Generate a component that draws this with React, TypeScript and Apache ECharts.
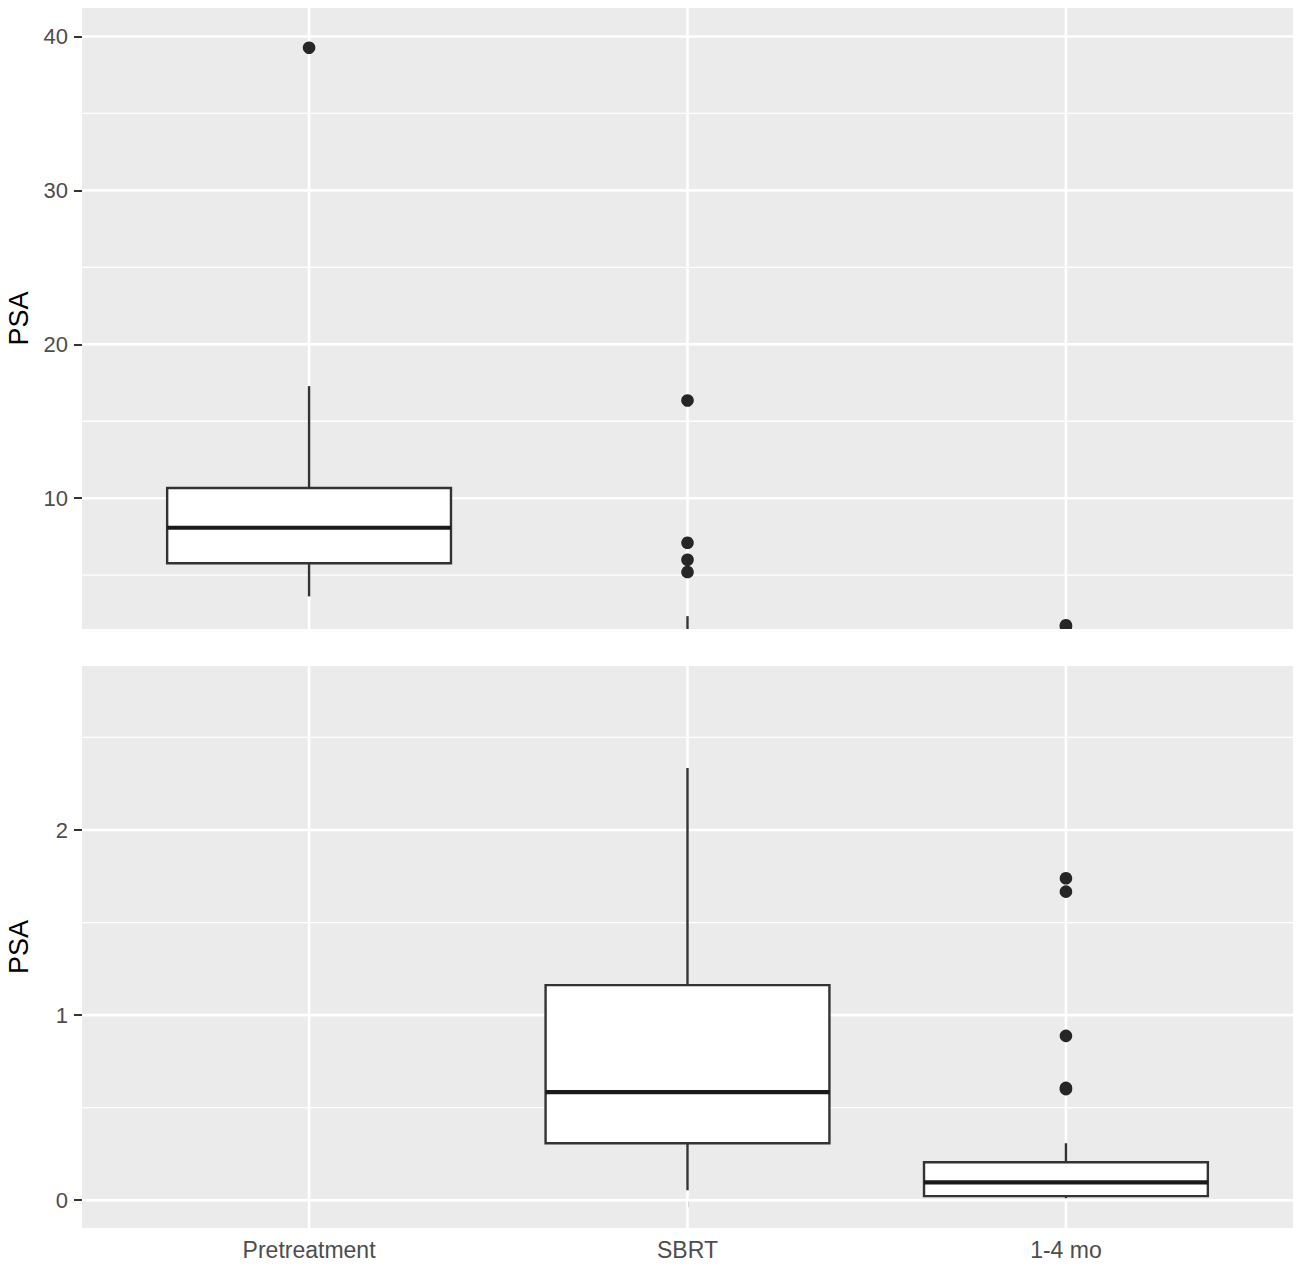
import React, { useEffect, useRef } from "react";
import * as echarts from "echarts";

const categories = ["Pretreatment", "SBRT", "1-4 mo"];
const whiskerLow = [3.62, 0.054, 0.011];
const quartile1 = [5.77, 0.308, 0.022];
const medians = [8.08, 0.584, 0.097];
const quartile3 = [10.66, 1.162, 0.205];
const whiskerHigh = [17.28, 2.335, 0.308];
const outliersPretreatment = [39.27];
const outliersSBRT = [16.35, 7.1, 6.0, 5.2];
const outliers1to4 = [1.739, 1.667, 0.888, 0.607, 0.6];

const topTicks = [10, 20, 30, 40];
const topMinor = [5, 15, 25, 35];
const bottomTicks = [0, 1, 2];
const bottomMinor = [0.5, 1.5, 2.5];
const categoryPositions = [1, 2, 3];

const FONT = "'Liberation Sans', Arial, Helvetica, sans-serif";
const BOX_WIDTH = 0.75;
const LINE = "#333333";

export default function App() {
  const ref = useRef<HTMLDivElement>(null);

  useEffect(() => {
    if (!ref.current) return;
    const chart = echarts.init(ref.current, undefined, { renderer: "svg" });

    const boxData = categories.map((_, i) => [
      i + 1,
      whiskerLow[i],
      quartile1[i],
      medians[i],
      quartile3[i],
      whiskerHigh[i],
    ]);
    const outlierData: number[][] = [];
    [outliersPretreatment, outliersSBRT, outliers1to4].forEach((arr, i) =>
      arr.forEach((v) => outlierData.push([i + 1, v]))
    );

    const hGridData = (major: number[], minor: number[]) =>
      major.map((v) => [1, v, 1]).concat(minor.map((v) => [1, v, 0]));
    const vGridData = categoryPositions.map((v) => [v, 0]);

    const renderBox = (params: any, api: any) => {
      const x = api.value(0);
      const pLo = api.coord([x, api.value(1)]);
      const pQ1 = api.coord([x, api.value(2)]);
      const pMed = api.coord([x, api.value(3)]);
      const pQ3 = api.coord([x, api.value(4)]);
      const pHi = api.coord([x, api.value(5)]);
      const half = api.size([BOX_WIDTH, 0])[0] / 2;
      const cx = pLo[0];
      return {
        type: "group",
        children: [
          {
            type: "line",
            shape: { x1: cx, y1: pQ3[1], x2: cx, y2: pHi[1] },
            style: { stroke: LINE, lineWidth: 2.4 },
          },
          {
            type: "line",
            shape: { x1: cx, y1: pQ1[1], x2: cx, y2: pLo[1] },
            style: { stroke: LINE, lineWidth: 2.4 },
          },
          {
            type: "rect",
            shape: { x: cx - half, y: pQ3[1], width: 2 * half, height: pQ1[1] - pQ3[1] },
            style: { fill: "#ffffff", stroke: LINE, lineWidth: 2.4 },
          },
          {
            type: "line",
            shape: { x1: cx - half, y1: pMed[1], x2: cx + half, y2: pMed[1] },
            style: { stroke: "#1a1a1a", lineWidth: 4.2 },
          },
        ],
      };
    };

    const renderOutlier = (params: any, api: any) => {
      const p = api.coord([api.value(0), api.value(1)]);
      return {
        type: "circle",
        shape: { cx: p[0], cy: p[1], r: 6.3 },
        style: { fill: "#262626" },
      };
    };

    const renderHGrid = (params: any, api: any) => {
      const cs = params.coordSys;
      const y = api.coord([1, api.value(1)])[1];
      const major = api.value(2) === 1;
      return {
        type: "line",
        shape: { x1: cs.x, y1: y, x2: cs.x + cs.width, y2: y },
        style: { stroke: "#ffffff", lineWidth: major ? 2.6 : 1.3 },
      };
    };

    const renderVGrid = (params: any, api: any) => {
      const cs = params.coordSys;
      const x = api.coord([api.value(0), 1])[0];
      return {
        type: "line",
        shape: { x1: x, y1: cs.y, x2: x, y2: cs.y + cs.height },
        style: { stroke: "#ffffff", lineWidth: 2.6 },
      };
    };

    const yAxisCommon = (ticks: number[]) => ({
      type: "value",
      axisLine: { show: false },
      splitLine: { show: false },
      axisTick: {
        show: true,
        customValues: ticks,
        length: 8,
        lineStyle: { color: LINE, width: 2 },
      },
      axisLabel: {
        customValues: ticks,
        margin: 14,
        fontSize: 22,
        color: "#4D4D4D",
        fontFamily: FONT,
      },
      name: "PSA",
      nameLocation: "middle",
      nameGap: 50,
      nameRotate: 90,
      nameTextStyle: { fontSize: 27, color: "#000000", fontFamily: FONT },
    });

    const seriesFor = (gi: number, major: number[], minor: number[]) => [
      {
        type: "custom",
        xAxisIndex: gi,
        yAxisIndex: gi,
        renderItem: renderHGrid,
        data: hGridData(major, minor),
        clip: true,
        silent: true,
        z: 1,
      },
      {
        type: "custom",
        xAxisIndex: gi,
        yAxisIndex: gi,
        renderItem: renderVGrid,
        data: vGridData,
        clip: true,
        silent: true,
        z: 1,
      },
      {
        type: "custom",
        xAxisIndex: gi,
        yAxisIndex: gi,
        renderItem: renderBox,
        data: boxData,
        clip: true,
        z: 2,
      },
      {
        type: "custom",
        xAxisIndex: gi,
        yAxisIndex: gi,
        renderItem: renderOutlier,
        data: outlierData,
        clip: true,
        z: 3,
      },
    ];

    chart.setOption({
      animation: false,
      backgroundColor: "#ffffff",
      grid: [
        {
          left: 82, top: 8, width: 1211, height: 621,
          show: true, backgroundColor: "#EBEBEB", borderWidth: 0,
          containLabel: false, outerBoundsMode: "none",
        },
        {
          left: 82, top: 666, width: 1211, height: 562,
          show: true, backgroundColor: "#EBEBEB", borderWidth: 0,
          containLabel: false, outerBoundsMode: "none",
        },
      ],
      xAxis: [
        { gridIndex: 0, type: "value", min: 0.4, max: 3.6, show: false },
        {
          gridIndex: 1,
          type: "value",
          min: 0.4,
          max: 3.6,
          axisLine: { show: false },
          splitLine: { show: false },
          axisTick: {
            show: true,
            customValues: categoryPositions,
            length: 7,
            lineStyle: { color: LINE, width: 2 },
          },
          axisLabel: {
            customValues: categoryPositions,
            formatter: (v: number) => categories[Math.round(v) - 1] ?? "",
            margin: 10,
            fontSize: 23,
            color: "#4D4D4D",
            fontFamily: FONT,
          },
        },
      ],
      yAxis: [
        { gridIndex: 0, min: 1.5, max: 41.85, ...yAxisCommon(topTicks) },
        { gridIndex: 1, min: -0.15, max: 2.886, ...yAxisCommon(bottomTicks) },
      ],
      series: [
        ...seriesFor(0, topTicks, topMinor),
        ...seriesFor(1, bottomTicks, bottomMinor),
      ],
    });

    return () => chart.dispose();
  }, []);

  return (
    <div
      ref={ref}
      style={{ position: "absolute", left: 0, top: 0, width: 1299, height: 1268 }}
    />
  );
}
